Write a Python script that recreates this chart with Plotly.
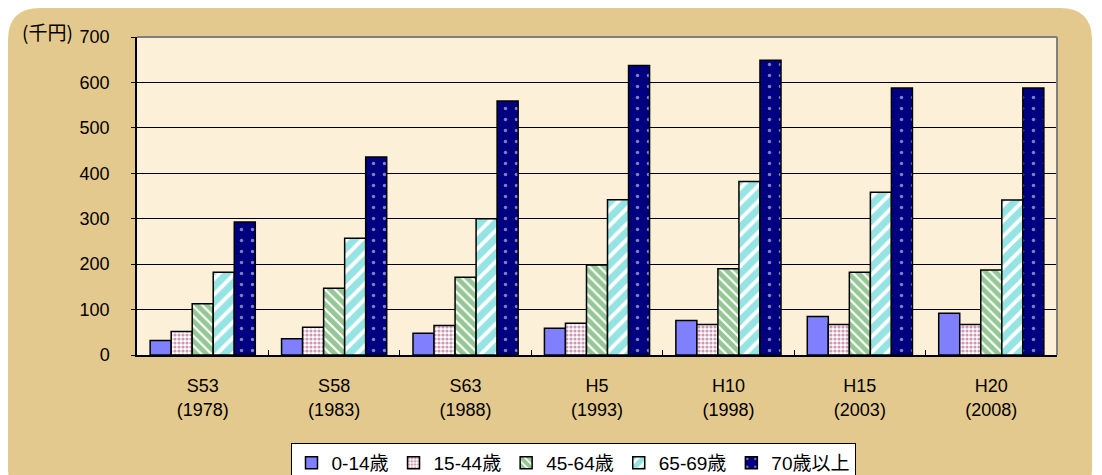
import plotly.graph_objects as go

# 年代 (和暦 / 西暦)
categories = ["S53<br>(1978)", "S58<br>(1983)", "S63<br>(1988)", "H5<br>(1993)",
              "H10<br>(1998)", "H15<br>(2003)", "H20<br>(2008)"]

# 年齢階級別 (千円)
age_0_14 = [32, 36, 48, 59, 76, 85, 92]
age_15_44 = [52, 61, 65, 70, 67, 67, 67]
age_45_64 = [113, 147, 171, 198, 190, 182, 187]
age_65_69 = [182, 257, 300, 342, 382, 358, 341]
age_70_up = [293, 436, 559, 637, 649, 588, 588]

y_ticks = [0, 100, 200, 300, 400, 500, 600, 700]

# page body has an 8px margin, so the figure is drawn 8px in from the window edge
OFF = 8
W, H = 1102 - OFF, 475 - OFF
L, T = 137 - OFF, 37 - OFF
pw, ph = 920, 318
R, B = W - L - pw, H - T - ph


def px(x, y):
    # window pixel -> paper coords
    return (x - OFF - L) / pw, (T + ph - (y - OFF)) / ph


def rounded_rect(x0, y0, x1, y1, r):
    def p(x, y):
        a, b = px(x, y)
        return f"{a:.5f},{b:.5f}"
    path = f"M {p(x0 + r, y0)} L {p(x1 - r, y0)} Q {p(x1, y0)} {p(x1, y0 + r)} "
    path += f"L {p(x1, y1 - r)} Q {p(x1, y1)} {p(x1 - r, y1)} "
    path += f"L {p(x0 + r, y1)} Q {p(x0, y1)} {p(x0, y1 - r)} "
    path += f"L {p(x0, y0 + r)} Q {p(x0, y0)} {p(x0 + r, y0)} Z"
    return path


fig = go.Figure()

series = [
    ("0-14歳", age_0_14, dict(color="#8080ff")),
    ("15-44歳", age_15_44, dict(color="white",
                               pattern=dict(shape=".", fgcolor="#993366", bgcolor="white",
                                            size=4, solidity=0.5))),
    ("45-64歳", age_45_64, dict(color="white",
                               pattern=dict(shape="\\", fgcolor="#2b8f2b", bgcolor="white",
                                            size=7, solidity=0.7))),
    ("65-69歳", age_65_69, dict(color="white",
                               pattern=dict(shape="/", fgcolor="#2ec8c8", bgcolor="white",
                                            size=11, solidity=0.65))),
    ("70歳以上", age_70_up, dict(color="#000080",
                              pattern=dict(shape=".", fgcolor="white", bgcolor="#000080",
                                           size=11, solidity=0.08))),
]

for name, vals, marker in series:
    marker = dict(marker, line=dict(color="black", width=1.5))
    fig.add_trace(go.Bar(x=categories, y=vals, name=name, marker=marker))

fig.add_shape(type="path", xref="paper", yref="paper", layer="below",
              path=rounded_rect(8, 8, 1092, 500, 32),
              fillcolor="#e4c98e", line=dict(width=0))
fig.add_shape(type="rect", xref="paper", yref="paper", layer="below",
              x0=0, x1=1, y0=0, y1=1, fillcolor="#fcf1d8", line=dict(width=0))

fig.add_annotation(text="(千円)", xref="paper", yref="paper", x=px(20, 0)[0], y=px(0, 32)[1],
                   xanchor="left", yanchor="middle", showarrow=False,
                   font=dict(size=19, color="black", family="Noto Sans CJK JP"))

fig.update_layout(
    width=W, height=H,
    margin=dict(l=L, r=R, t=T, b=B, autoexpand=False),
    paper_bgcolor="white",
    plot_bgcolor="rgba(0,0,0,0)",
    barmode="group",
    bargap=0.2,
    bargroupgap=0,
    font=dict(family="Liberation Sans, Arial, Noto Sans CJK JP", size=18, color="black"),
    showlegend=True,
    legend=dict(orientation="h", x=px(573, 0)[0], y=px(0, 443)[1], xanchor="center", yanchor="top",
                bgcolor="white", bordercolor="black", borderwidth=1,
                font=dict(size=19), itemwidth=30, tracegroupgap=0,
                traceorder="normal"),
)
fig.update_yaxes(range=[0, 700], tickvals=y_ticks, showgrid=True, gridcolor="black", gridwidth=1,
                 showline=True, linecolor="black", linewidth=1.5, mirror=False,
                 ticks="outside", ticklen=4, tickcolor="black", zeroline=False,
                 tickfont=dict(size=18), ticklabelstandoff=18)
fig.update_xaxes(showline=True, linecolor="black", linewidth=1.5,
                 ticks="inside", tickson="boundaries", ticklen=5, tickcolor="black",
                 tickfont=dict(size=18), ticklabelstandoff=14)
fig.add_shape(type="line", xref="paper", yref="paper", x0=0, x1=1, y0=1, y1=1,
              line=dict(color="#808080", width=2))
fig.add_shape(type="line", xref="paper", yref="paper", x0=1, x1=1, y0=0, y1=1,
              line=dict(color="#808080", width=2))

fig.write_html("out.html")
